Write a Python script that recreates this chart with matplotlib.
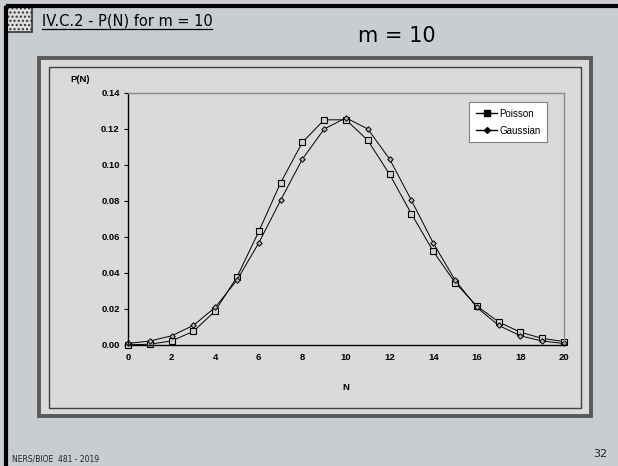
import matplotlib
matplotlib.use("Agg")
import matplotlib.pyplot as plt
from matplotlib.patches import Rectangle
from matplotlib.lines import Line2D

N = list(range(0, 21))
poisson = [0.0000454, 0.000454, 0.00227, 0.00757, 0.0189, 0.0378, 0.0631, 0.0901,
           0.1126, 0.1251, 0.1251, 0.1137, 0.0948, 0.0729, 0.0521, 0.0347, 0.0217,
           0.0128, 0.0071, 0.0037, 0.0019]
gaussian = [0.00085, 0.0022, 0.0051, 0.0109, 0.0209, 0.0361, 0.0567, 0.0804,
            0.1033, 0.1200, 0.1262, 0.1200, 0.1033, 0.0804, 0.0567, 0.0361, 0.0209,
            0.0109, 0.0051, 0.0022, 0.00085]
xticks = list(range(0, 21, 2))
yticks = [0.00, 0.02, 0.04, 0.06, 0.08, 0.10, 0.12, 0.14]

W, H = 618, 466
fig = plt.figure(figsize=(W / 100, H / 100), dpi=100)
fig.patch.set_facecolor("#c9cdd2")

# background layer in pixel coordinates
bg = fig.add_axes([0, 0, 1, 1])
bg.set_xlim(0, W)
bg.set_ylim(H, 0)
bg.axis("off")
bg.set_zorder(0)

# slide frame
bg.plot([6, W], [6, 6], color="black", lw=3, solid_capstyle="butt")
bg.plot([6, 6], [6, H], color="black", lw=3, solid_capstyle="butt")
# icon
bg.add_patch(Rectangle((6, 6), 26, 26, facecolor="#dcdcdc", edgecolor="#333333",
                       lw=1.2, hatch="...."))
# title
bg.text(42, 25, "IV.C.2 - P(N) for m = 10", fontsize=10.5, family="DejaVu Sans",
        color="black", va="baseline", ha="left")
bg.plot([42, 212], [28.5, 28.5], color="black", lw=0.9)
bg.text(397, 36, "m = 10", fontsize=15, family="DejaVu Sans", color="black",
        va="center", ha="center")
# footer
bg.text(12, 462, "NERS/BIOE  481 - 2019", fontsize=5.5, family="DejaVu Sans",
        color="#222222", va="baseline", ha="left")
bg.text(607, 457, "32", fontsize=8, family="DejaVu Sans", color="#222222",
        va="baseline", ha="right")

# chart boxes
bg.add_patch(Rectangle((39, 58), 552, 358, facecolor="#dadada", edgecolor="#5a5a5a", lw=2.8))
bg.add_patch(Rectangle((49, 67), 532, 341, facecolor="#dadada", edgecolor="#404040", lw=1.0))

# plot
ax = fig.add_axes([128 / W, 1 - 345 / H, (564 - 128) / W, (345 - 93) / H])
ax.set_zorder(2)
ax.set_facecolor("#dadada")
ax.plot(N, poisson, color="black", lw=0.7, marker="s", markersize=4,
        markerfacecolor="#cfcfcf", markeredgecolor="black", markeredgewidth=0.8,
        clip_on=False)
ax.plot(N, gaussian, color="black", lw=0.7, marker="D", markersize=2.8,
        markerfacecolor="#b0b0b0", markeredgecolor="black", markeredgewidth=0.7,
        clip_on=False)
ax.set_xlim(0, 20)
ax.set_ylim(0, 0.14)
ax.set_xticks(xticks)
ax.set_yticks(yticks)
ax.set_xticklabels([str(t) for t in xticks])
ax.set_yticklabels([f"{t:.2f}" for t in yticks])
for lab in ax.get_xticklabels() + ax.get_yticklabels():
    lab.set_fontweight("bold")
    lab.set_fontsize(6.8)
    lab.set_family("Liberation Sans")
ax.tick_params(axis="both", direction="out", length=3, width=0.8, colors="black", pad=3)
ax.tick_params(axis="x", length=0, pad=6)
ax.spines["left"].set_color("black")
ax.spines["bottom"].set_color("black")
ax.spines["top"].set_color("#8a8a8a")
ax.spines["right"].set_color("#8a8a8a")
for s in ax.spines.values():
    s.set_linewidth(1.0)

bg.text(346, 388, "N", fontsize=6.8, fontweight="bold", family="Liberation Sans",
        ha="center", va="center")
bg.text(80, 80, "P(N)", fontsize=6.8, fontweight="bold", family="Liberation Sans",
        ha="center", va="center")

handles = [Line2D([], [], color="black", lw=1, marker="s", markersize=4,
                  markerfacecolor="black"),
           Line2D([], [], color="black", lw=1, marker="D", markersize=3,
                  markerfacecolor="black")]
leg = ax.legend(handles, ["Poisson", "Gaussian"], loc="upper left",
                bbox_to_anchor=((469 - 128) / (564 - 128), 1 - (102 - 93) / (345 - 93)),
                frameon=True, fancybox=False, borderpad=0.7, handlelength=2.2,
                handletextpad=0.2, labelspacing=0.7, borderaxespad=0,
                prop={"family": "Liberation Sans", "size": 7})
leg.get_frame().set_edgecolor("#808080")
leg.get_frame().set_linewidth(0.8)
leg.get_frame().set_facecolor("white")
leg.get_frame().set_alpha(1)

fig.savefig("out.png", dpi=100, facecolor=fig.get_facecolor())
